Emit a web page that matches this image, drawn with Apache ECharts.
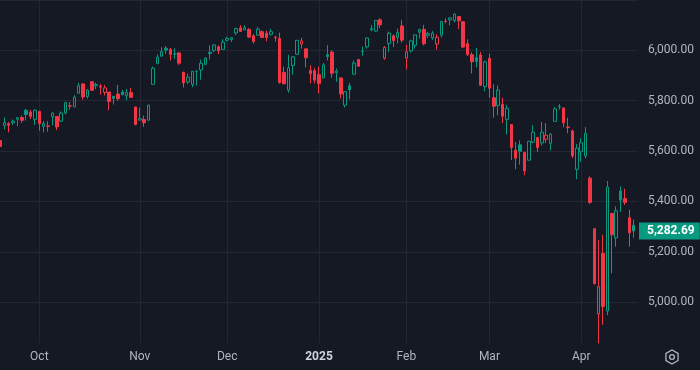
<!DOCTYPE html>
<html><head><meta charset="utf-8">
<script src="https://cdn.jsdelivr.net/npm/echarts@6/dist/echarts.min.js"></script>
<style>html,body{margin:0;padding:0;background:#151924;}#c{width:700px;height:370px;}</style>
</head><body><div id="c"></div>
<script>
const dates = [
'2024-09-18','2024-09-19','2024-09-20','2024-09-23','2024-09-24','2024-09-25','2024-09-26','2024-09-27','2024-09-30',
'2024-10-01','2024-10-02','2024-10-03','2024-10-04','2024-10-07','2024-10-08','2024-10-09','2024-10-10','2024-10-11','2024-10-14','2024-10-15','2024-10-16','2024-10-17','2024-10-18','2024-10-21','2024-10-22','2024-10-23','2024-10-24','2024-10-25','2024-10-28','2024-10-29','2024-10-30','2024-10-31',
'2024-11-01','2024-11-04','2024-11-05','2024-11-06','2024-11-07','2024-11-08','2024-11-11','2024-11-12','2024-11-13','2024-11-14','2024-11-15','2024-11-18','2024-11-19','2024-11-20','2024-11-21','2024-11-22','2024-11-25','2024-11-26','2024-11-27','2024-11-29',
'2024-12-02','2024-12-03','2024-12-04','2024-12-05','2024-12-06','2024-12-09','2024-12-10','2024-12-11','2024-12-12','2024-12-13','2024-12-16','2024-12-17','2024-12-18','2024-12-19','2024-12-20','2024-12-23','2024-12-24','2024-12-26','2024-12-27','2024-12-30','2024-12-31',
'2025-01-02','2025-01-03','2025-01-06','2025-01-07','2025-01-08','2025-01-10','2025-01-13','2025-01-14','2025-01-15','2025-01-16','2025-01-17','2025-01-21','2025-01-22','2025-01-23','2025-01-24','2025-01-27','2025-01-28','2025-01-29','2025-01-30','2025-01-31',
'2025-02-03','2025-02-04','2025-02-05','2025-02-06','2025-02-07','2025-02-10','2025-02-11','2025-02-12','2025-02-13','2025-02-14','2025-02-18','2025-02-19','2025-02-20','2025-02-21','2025-02-24','2025-02-25','2025-02-26','2025-02-27','2025-02-28',
'2025-03-03','2025-03-04','2025-03-05','2025-03-06','2025-03-07','2025-03-10','2025-03-11','2025-03-12','2025-03-13','2025-03-14','2025-03-17','2025-03-18','2025-03-19','2025-03-20','2025-03-21','2025-03-24','2025-03-25','2025-03-26','2025-03-27','2025-03-28','2025-03-31',
'2025-04-01','2025-04-02','2025-04-03','2025-04-04','2025-04-07','2025-04-08','2025-04-09','2025-04-10','2025-04-11','2025-04-14','2025-04-15','2025-04-16','2025-04-17'
];
const opens = [
5641.68,5702.63,5709.13,5711.90,5726.52,5733.65,5762.22,5755.36,5726.00,
5757.73,5698.19,5698.35,5737.00,5737.80,5719.14,5751.80,5778.36,5775.09,5829.81,5866.74,5816.58,5875.62,5859.43,5857.82,5832.70,5834.50,5817.80,5826.75,5833.93,5819.68,5832.65,5775.34,
5723.22,5725.15,5722.43,5864.89,5947.21,5976.76,6008.86,6003.60,5985.75,5989.68,5912.79,5874.17,5864.56,5917.04,5922.07,5944.36,5992.28,6000.03,6014.11,6003.98,
6040.11,6042.97,6069.39,6089.03,6081.38,6083.01,6057.59,6060.15,6074.29,6068.17,6063.79,6052.55,6047.65,5912.71,5842.00,5940.25,5984.63,6024.97,6006.17,5920.67,5919.74,
5903.26,5891.07,5982.81,5993.26,5910.66,5890.66,5782.32,5859.36,5905.21,5963.61,5995.60,6014.12,6081.39,6076.32,6121.43,5969.04,6026.97,6057.70,6050.75,6096.79,
5969.65,5998.14,6020.45,6072.22,6083.13,6059.70,6049.32,6025.08,6060.59,6115.52,6121.60,6117.76,6134.50,6114.10,6026.69,5982.73,5970.87,5981.88,5856.74,
5968.33,5811.98,5781.44,5785.87,5726.01,5705.37,5603.65,5624.84,5594.45,5563.85,5635.60,5654.53,5632.37,5646.92,5630.73,5718.08,5775.86,5771.66,5695.64,5679.82,5527.91,
5597.53,5580.76,5492.74,5292.14,4953.79,5193.57,4965.28,5353.15,5255.56,5441.96,5411.99,5335.75,5305.45
];
const highs = [
5689.75,5733.57,5715.14,5725.36,5735.32,5741.03,5767.37,5763.78,5765.14,
5757.73,5719.14,5718.78,5753.32,5739.34,5757.60,5796.80,5795.03,5822.13,5871.41,5870.36,5846.52,5878.46,5872.17,5866.92,5863.04,5834.85,5817.80,5862.82,5842.92,5847.19,5850.94,5775.34,
5772.52,5741.43,5783.44,5936.14,5983.84,6012.45,6017.31,6009.92,6008.19,5993.88,5915.29,5908.12,5917.11,5920.67,5963.44,5972.90,6020.75,6025.42,6020.16,6044.17,
6053.58,6052.43,6089.84,6099.97,6099.97,6088.51,6065.40,6092.59,6079.68,6078.58,6085.19,6057.68,6070.67,5935.52,5982.06,5978.25,6040.10,6049.75,6006.17,5940.79,5929.74,
5935.09,5949.34,6021.04,6000.68,5927.89,5890.66,5838.04,5871.92,5960.61,5964.69,6014.96,6051.51,6100.81,6118.73,6128.18,6017.17,6074.54,6062.83,6086.64,6120.91,
6022.13,6042.48,6062.86,6084.03,6101.28,6073.38,6076.28,6063.63,6116.91,6127.47,6129.63,6147.43,6134.50,6114.82,6043.65,5992.65,6009.82,5993.69,5959.40,
5986.09,5865.08,5860.59,5812.08,5783.01,5705.37,5636.30,5642.19,5597.78,5639.94,5703.52,5654.53,5715.33,5711.15,5670.84,5775.14,5786.95,5772.00,5732.28,5685.89,5627.56,
5650.57,5695.31,5499.53,5292.14,5246.57,5267.47,5481.34,5353.15,5381.46,5459.46,5450.41,5367.24,5328.31
];
const lows = [
5615.08,5686.42,5674.49,5704.22,5698.99,5712.06,5721.01,5727.34,5703.53,
5681.28,5674.00,5677.37,5702.82,5683.55,5714.56,5745.02,5764.76,5775.09,5829.81,5804.48,5808.34,5840.25,5846.11,5824.81,5821.17,5762.41,5784.92,5799.98,5823.08,5802.40,5811.28,5702.86,
5723.22,5696.51,5722.10,5864.89,5947.21,5976.76,5986.69,5960.08,5965.91,5942.28,5853.01,5865.95,5853.60,5860.58,5883.64,5944.36,5963.91,5992.27,5984.87,6003.98,
6035.33,6033.39,6061.06,6074.84,6079.98,6048.63,6026.68,6060.15,6051.25,6035.77,6059.14,6035.19,5867.79,5866.07,5832.30,5902.57,5981.44,6007.37,5932.95,5869.16,5868.86,
5829.53,5888.66,5960.01,5890.68,5874.78,5809.26,5773.31,5805.74,5905.21,5934.07,5978.44,6006.88,6076.13,6074.67,6088.74,5962.92,5994.63,6012.96,6027.46,6030.93,
5923.93,5990.87,6007.06,6046.83,6019.96,6048.69,6042.34,6003.00,6051.05,6107.62,6099.51,6111.15,6084.59,6008.56,5977.83,5908.49,5932.69,5858.78,5837.66,
5810.91,5732.59,5742.35,5711.64,5666.29,5564.02,5528.41,5546.09,5504.65,5563.85,5631.12,5597.76,5622.20,5632.37,5603.10,5718.08,5764.59,5694.41,5670.94,5572.42,5488.73,
5558.52,5571.48,5390.83,5069.90,4835.04,4910.42,4948.43,5115.27,5220.77,5358.02,5386.44,5220.79,5255.58
];
const closes = [
5618.26,5713.64,5702.55,5718.57,5732.93,5722.26,5745.37,5738.17,5762.48,
5708.75,5709.54,5699.94,5751.07,5695.94,5751.13,5792.04,5780.05,5815.03,5859.85,5815.26,5842.47,5841.47,5864.67,5853.98,5851.20,5797.42,5809.86,5808.12,5823.52,5832.92,5813.67,5705.45,
5728.80,5712.69,5782.76,5929.04,5973.10,5995.54,6001.35,5983.99,5985.38,5949.17,5870.62,5893.62,5916.98,5917.11,5948.71,5969.34,5987.37,6021.63,5998.74,6032.38,
6047.15,6049.88,6086.49,6075.11,6090.27,6052.85,6034.91,6084.19,6051.25,6051.09,6074.08,6050.61,5872.16,5867.08,5930.85,5974.07,6040.04,6037.59,5970.84,5906.94,5881.63,
5868.55,5942.47,5975.38,5909.03,5918.25,5827.04,5836.22,5842.91,5949.91,5937.34,5996.66,6049.24,6086.37,6118.71,6101.24,6012.28,6067.70,6039.31,6071.17,6040.53,
5994.57,6037.88,6061.48,6083.57,6025.99,6066.44,6068.50,6051.97,6115.07,6114.63,6129.58,6144.15,6117.52,6013.13,5983.25,5955.25,5956.06,5861.57,5954.50,
5849.72,5778.15,5842.63,5738.52,5770.20,5614.56,5572.07,5599.30,5521.52,5638.94,5675.12,5614.66,5675.29,5662.89,5667.56,5767.57,5776.65,5712.20,5693.31,5580.94,5611.85,
5633.07,5670.97,5396.52,5074.08,5062.25,4982.77,5456.90,5268.05,5363.36,5405.97,5396.63,5275.70,5282.69
];
const monthNames = ['Jan','Feb','Mar','Apr','May','Jun','Jul','Aug','Sep','Oct','Nov','Dec'];
const lastPrice = closes[closes.length - 1];

const UP = '#089981', DOWN = '#f23645', BG = '#151924', GRID = '#242733', TXT = '#b2b5be';
const FONT = 'Roboto';
const fmtPrice = v => Number(v).toLocaleString('en-US', {minimumFractionDigits: 2, maximumFractionDigits: 2});

const cats = dates.concat(['']);
const isMonthStart = i => i > 0 && !!cats[i] && !!cats[i-1] && cats[i].slice(0,7) !== cats[i-1].slice(0,7);

const candleData = opens.map((o, i) => {
  const c = closes[i];
  const prev = i > 0 ? closes[i-1] : o;
  const col = c >= prev ? UP : DOWN;
  const fill = c > o ? BG : col;
  return {value: [o, c, lows[i], highs[i]], itemStyle: {color: fill, color0: fill, borderColor: col, borderColor0: col, borderWidth: 1}};
});

const chart = echarts.init(document.getElementById('c'), null, {renderer: 'canvas'});
const hex = [];
for (let k = 0; k < 6; k++) { const a = Math.PI/6 + k*Math.PI/3; hex.push([672 + 7*Math.cos(a), 357 + 7*Math.sin(a)]); }

chart.setOption({
  backgroundColor: BG,
  animation: false,
  grid: {left: 0, right: 62, top: -6.6, height: 359.2, containLabel: false},
  xAxis: [
    {type: 'category', data: cats, boundaryGap: false, position: 'bottom', z: 0,
     axisLine: {show: false}, axisTick: {show: false}, axisLabel: {show: false},
     splitLine: {show: true, interval: (i) => isMonthStart(i), lineStyle: {color: GRID, width: 1}}},
    {type: 'category', data: cats, boundaryGap: false, position: 'bottom', z: 10,
     axisLine: {show: false}, axisTick: {show: false}, splitLine: {show: false},
     axisLabel: {show: true, interval: (i) => isMonthStart(i), color: TXT, fontSize: 12, fontFamily: FONT,
       verticalAlign: 'middle', margin: 4.5,
       formatter: (v) => { if (!v) return ''; const m = +v.slice(5,7); return m === 1 ? '{y|' + v.slice(0,4) + '}' : monthNames[m-1]; },
       rich: {y: {color: '#d1d4dc', fontSize: 12, fontFamily: FONT, fontWeight: 'bold'}}}}
  ],
  yAxis: {type: 'value', position: 'right', min: 4800, max: 6200, interval: 200,
    axisLine: {show: false}, axisTick: {show: false},
    splitLine: {show: true, lineStyle: {color: GRID, width: 1}},
    axisLabel: {color: TXT, fontSize: 12, fontFamily: FONT, margin: 10, showMinLabel: false, showMaxLabel: false, formatter: fmtPrice}},
  series: [{
    type: 'candlestick', xAxisIndex: 0, yAxisIndex: 0, data: candleData, barWidth: 3, clip: false,
    markLine: {silent: true, animation: false, symbol: ['none','none'],
      lineStyle: {color: 'rgba(0,0,0,0)', width: 0},
      label: {show: true, position: 'end', distance: 1, formatter: () => fmtPrice(lastPrice),
        backgroundColor: UP, color: '#ffffff', fontSize: 12, fontFamily: FONT, fontWeight: 'bold',
        padding: [3,5,2,8], lineHeight: 12},
      data: [{yAxis: lastPrice}]}
  }],
  graphic: [
    {type: 'rect', z: 5, silent: true, shape: {x: 0, y: 343.5, width: 638, height: 30}, style: {fill: BG}},
    {type: 'polygon', z: 6, silent: true, shape: {points: hex}, style: {fill: 'none', stroke: TXT, lineWidth: 1.3}},
    {type: 'circle', z: 6, silent: true, shape: {cx: 672, cy: 357, r: 2.4}, style: {fill: 'none', stroke: TXT, lineWidth: 1.3}}
  ]
});
</script></body></html>
